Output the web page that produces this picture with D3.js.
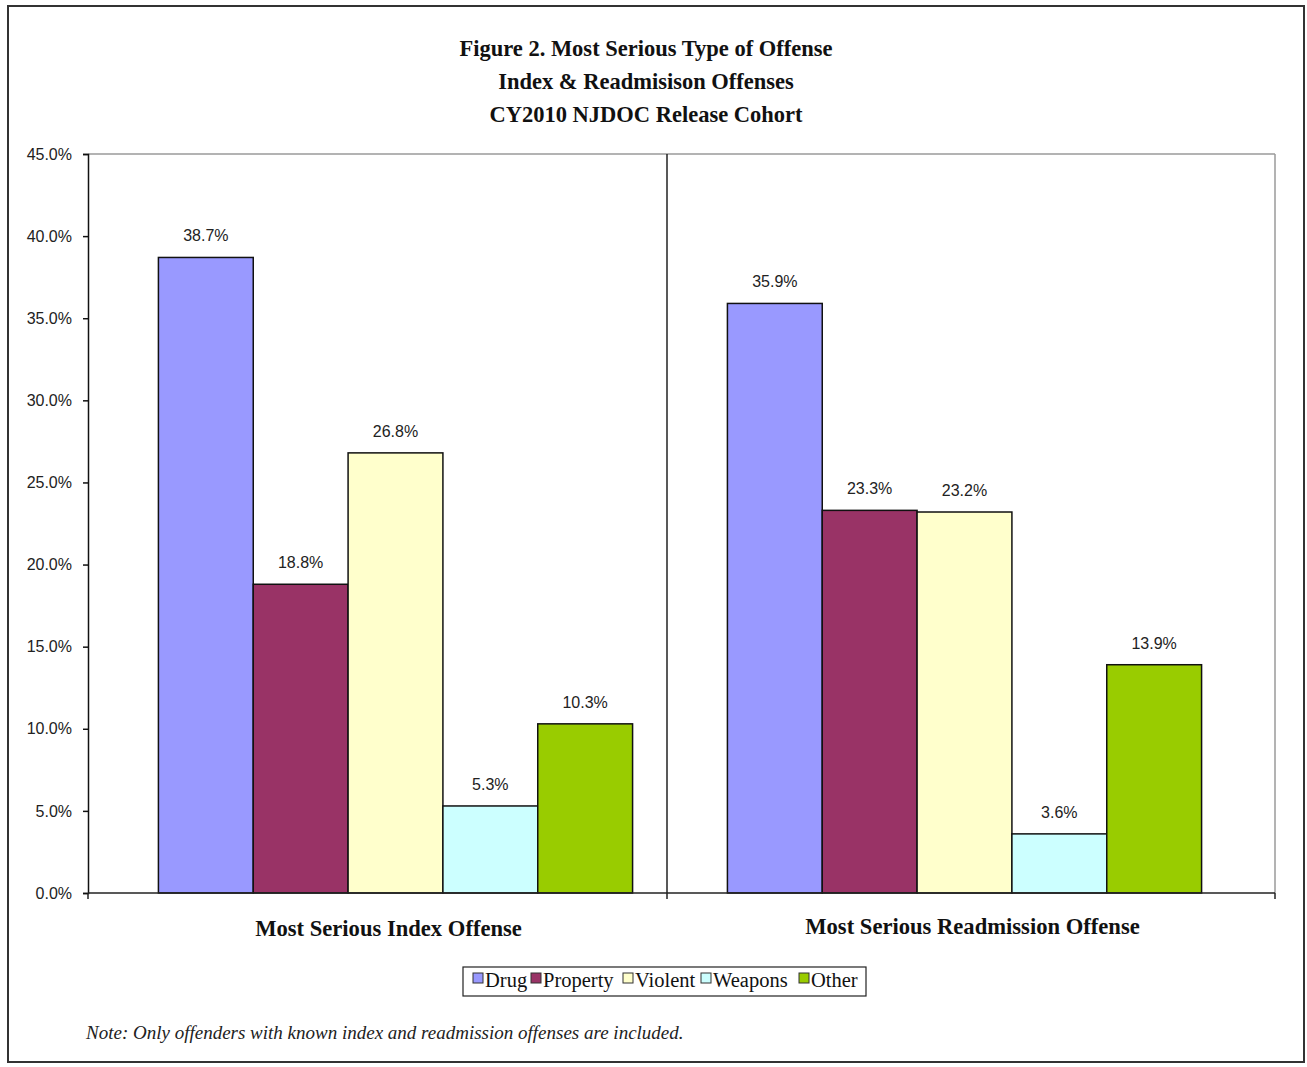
<!DOCTYPE html>
<html>
<head>
<meta charset="utf-8">
<script src="https://cdn.jsdelivr.net/npm/d3@7"></script>
<style>
  html, body { margin: 0; padding: 0; background: #fff; }
  svg { display: block; }
  .tick-label { font-family: "Liberation Sans Narrow", "Liberation Sans", Arial, sans-serif; font-size: 16px; fill: #222; }
  .title { font-family: "Liberation Serif", "Times New Roman", serif; font-weight: bold; font-size: 22.5px; fill: #111; }
  .cat { font-family: "Liberation Serif", "Times New Roman", serif; font-weight: bold; font-size: 22.6px; fill: #111; }
  .legend-text { font-family: "Liberation Serif", "Times New Roman", serif; font-size: 20.5px; fill: #111; }
  .note { font-family: "Liberation Serif", "Times New Roman", serif; font-style: italic; font-size: 19px; fill: #222; }
</style>
</head>
<body>
<svg id="chart" width="1307" height="1067"></svg>
<script>
// Offense categories and the share of each most-serious offense type
const categories = ["Most Serious Index Offense", "Most Serious Readmission Offense"];
const series = ["Drug", "Property", "Violent", "Weapons", "Other"];
const indexValues = [38.7, 18.8, 26.8, 5.3, 10.3];
const readmissionValues = [35.9, 23.3, 23.2, 3.6, 13.9];
const seriesColors = ["#9999FF", "#993366", "#FFFFCC", "#CCFFFF", "#99CC00"];
const yTicks = [0, 5, 10, 15, 20, 25, 30, 35, 40, 45];
const titleLines = [
  "Figure 2. Most Serious Type of Offense",
  "Index & Readmisison Offenses",
  "CY2010 NJDOC Release Cohort"
];
const noteText = "Note: Only offenders with known index and readmission offenses are included.";

const valuesByCategory = [indexValues, readmissionValues];

const svg = d3.select("#chart");

// outer frame
svg.append("rect")
  .attr("x", 8).attr("y", 6).attr("width", 1296).attr("height", 1056)
  .attr("fill", "#fff").attr("stroke", "#333").attr("stroke-width", 2);

// plot area
const plot = { left: 88, right: 1275, top: 154, bottom: 893 };

const y = d3.scaleLinear().domain([0, 45]).range([plot.bottom, plot.top]);

const x0 = d3.scaleBand().domain(categories).range([111, 1249]).padding(0);
const x1 = d3.scaleBand().domain(series).range([0, x0.bandwidth()])
  .paddingInner(0).paddingOuter(0.5);
const color = d3.scaleOrdinal().domain(series).range(seriesColors);

// plot border: light top & right, dark left & bottom
svg.append("line")
  .attr("x1", plot.left).attr("x2", plot.right).attr("y1", plot.top).attr("y2", plot.top)
  .attr("stroke", "#9a9a9a").attr("stroke-width", 1.5);
svg.append("line")
  .attr("x1", plot.right).attr("x2", plot.right).attr("y1", plot.top).attr("y2", plot.bottom)
  .attr("stroke", "#9a9a9a").attr("stroke-width", 1.5);

// divider between the two categories
const dividerX = 667;
svg.append("line")
  .attr("x1", dividerX).attr("x2", dividerX).attr("y1", plot.top).attr("y2", plot.bottom)
  .attr("stroke", "#222").attr("stroke-width", 1.5);

// bars
const groups = svg.append("g").selectAll("g")
  .data(categories)
  .join("g")
  .attr("transform", d => `translate(${x0(d)},0)`);

groups.selectAll("rect")
  .data((c, i) => series.map((s, j) => ({ s, v: valuesByCategory[i][j] })))
  .join("rect")
  .attr("x", d => x1(d.s))
  .attr("y", d => y(d.v))
  .attr("width", x1.bandwidth())
  .attr("height", d => y(0) - y(d.v))
  .attr("fill", d => color(d.s))
  .attr("stroke", "#111")
  .attr("stroke-width", 1.5);

groups.selectAll("text")
  .data((c, i) => series.map((s, j) => ({ s, v: valuesByCategory[i][j] })))
  .join("text")
  .attr("class", "tick-label")
  .attr("x", d => x1(d.s) + x1.bandwidth() / 2)
  .attr("y", d => y(d.v) - 16)
  .attr("text-anchor", "middle")
  .text(d => d.v.toFixed(1) + "%");

// y axis
const yAxis = svg.append("g")
  .attr("transform", `translate(${plot.left},0)`)
  .call(d3.axisLeft(y).tickValues(yTicks).tickSize(5).tickPadding(11)
    .tickFormat(d => d.toFixed(1) + "%"));
yAxis.select(".domain").attr("stroke", "#111").attr("stroke-width", 1.5);
yAxis.selectAll(".tick line").attr("stroke", "#111").attr("stroke-width", 1.5);
yAxis.selectAll(".tick text").attr("class", "tick-label").attr("font-size", null).attr("font-family", null);

// x baseline and category ticks
svg.append("line")
  .attr("x1", plot.left).attr("x2", plot.right).attr("y1", y(0)).attr("y2", y(0))
  .attr("stroke", "#222").attr("stroke-width", 1.5);
[plot.left, dividerX, plot.right].forEach(px => {
  svg.append("line")
    .attr("x1", px).attr("x2", px).attr("y1", y(0)).attr("y2", y(0) + 6)
    .attr("stroke", "#222").attr("stroke-width", 1.5);
});

// category labels
const catLabelShift = [-7, 8];
svg.append("g").selectAll("text")
  .data(categories)
  .join("text")
  .attr("class", "cat")
  .attr("x", (d, i) => x0(d) + x0.bandwidth() / 2 + catLabelShift[i])
  .attr("y", (d, i) => i === 0 ? 936 : 934)
  .attr("text-anchor", "middle")
  .text(d => d);

// title
svg.append("g").selectAll("text")
  .data(titleLines)
  .join("text")
  .attr("class", "title")
  .attr("x", 646)
  .attr("y", (d, i) => 56 + i * 33)
  .attr("text-anchor", "middle")
  .text(d => d);

// legend
const legend = svg.append("g");
legend.append("rect")
  .attr("x", 463).attr("y", 967).attr("width", 403).attr("height", 29)
  .attr("fill", "#fff").attr("stroke", "#222").attr("stroke-width", 1.2);
const legendX = [473, 531, 623, 701, 799];
const items = legend.selectAll("g")
  .data(series)
  .join("g")
  .attr("transform", (d, i) => `translate(${legendX[i]},973)`);
items.append("rect")
  .attr("width", 10).attr("height", 10)
  .attr("fill", d => color(d)).attr("stroke", "#333").attr("stroke-width", 1);
items.append("text")
  .attr("class", "legend-text")
  .attr("x", 12).attr("y", 14)
  .text(d => d);

// footnote
svg.append("text")
  .attr("class", "note")
  .attr("x", 86).attr("y", 1039)
  .text(noteText);
</script>
</body>
</html>
